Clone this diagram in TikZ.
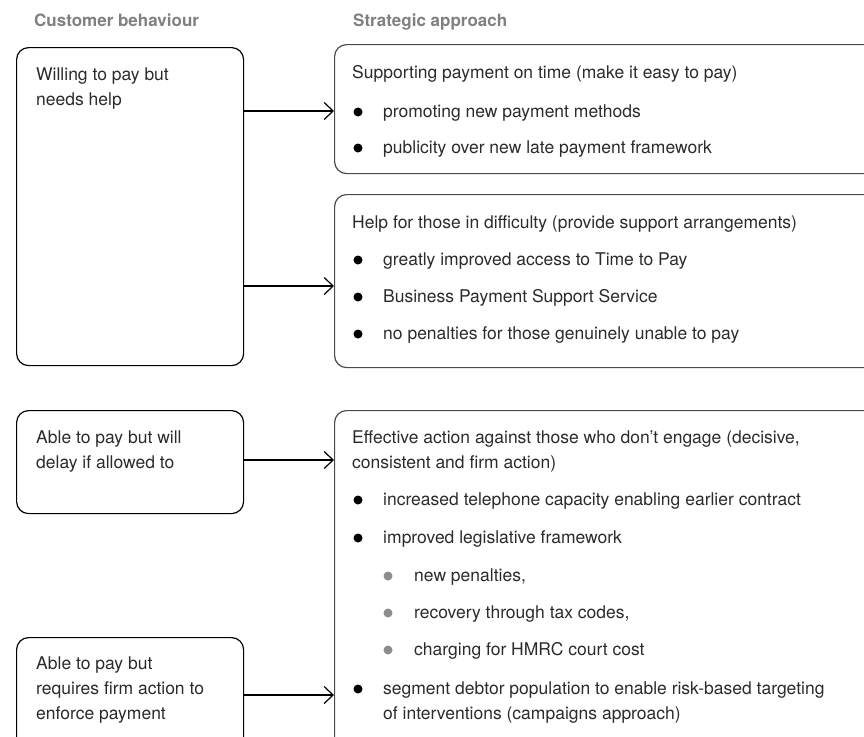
\documentclass[tikz,border=0pt]{standalone}
\usepackage{fontspec}
\setmainfont{TeX Gyre Heros}
\usetikzlibrary{arrows.meta}
\definecolor{hdrcol}{HTML}{808080}
\definecolor{txtcol}{HTML}{2B2B2B}
\definecolor{subcol}{HTML}{8C8C8C}
\definecolor{rboxcol}{HTML}{4A4A4A}
\begin{document}
\begin{tikzpicture}[x=1pt,y=-1pt,
  lbox/.style={draw=black, line width=1.2pt, rounded corners=12pt, anchor=north west, inner sep=0pt},
  rbox/.style={draw=rboxcol, line width=1.2pt, rounded corners=12pt, anchor=north west, inner sep=0pt},
  hdr/.style={anchor=base west, inner sep=0pt, text=hdrcol, font=\fontsize{17}{20}\selectfont\bfseries},
  txt/.style={anchor=base west, inner sep=0pt, text=txtcol, font=\fontsize{17.5}{25}\selectfont},
  dot/.style={circle, fill=black, inner sep=0pt, minimum size=9pt},
  subdot/.style={circle, fill=subcol, inner sep=0pt, minimum size=9pt},
  arr/.style={line width=1.2pt, -{Straight Barb[length=9pt,width=17pt]}}]
\useasboundingbox (0,0) rectangle (864,736);
\clip (0,0) rectangle (864,736);

% headers
\node[hdr] (h1) at (34,27) {Customer behaviour};
\node[hdr] (h2) at (353,27) {Strategic approach};

% boxes
\node[lbox, minimum width=227pt, minimum height=318pt] (l1) at (16,47) {};
\node[rbox, minimum width=546pt, minimum height=129pt] (r1) at (334,44) {};
\node[rbox, minimum width=546pt, minimum height=173pt] (r2) at (334,194) {};
\node[lbox, minimum width=227pt, minimum height=103pt] (l3) at (16,410) {};
\node[rbox, minimum width=546pt, minimum height=350pt] (r3) at (334,410) {};
\node[lbox, minimum width=227pt, minimum height=123pt] (l4) at (16,637) {};

% left texts
\node[txt] (t11) at (36,80) {Willing to pay but};
\node[txt] (t12) at (36,105) {needs help};
\node[txt] (t31) at (36,443) {Able to pay but will};
\node[txt] (t32) at (36,468) {delay if allowed to};
\node[txt] (t41) at (36,669) {Able to pay but};
\node[txt] (t42) at (36,694) {requires firm action to};
\node[txt] (t43) at (36,719) {enforce payment};

% right box 1
\node[txt] (s10) at (352,78) {Supporting payment on time (make it easy to pay)};
\node[dot] (d11) at (358,112) {};
\node[txt] (s11) at (383,117) {promoting new payment methods};
\node[dot] (d12) at (358,148) {};
\node[txt] (s12) at (383,153) {publicity over new late payment framework};

% right box 2
\node[txt] (s20) at (352,228) {Help for those in difficulty (provide support arrangements)};
\node[dot] (d21) at (358,260) {};
\node[txt] (s21) at (383,265) {greatly improved access to Time to Pay};
\node[dot] (d22) at (358,297) {};
\node[txt] (s22) at (383,302) {Business Payment Support Service};
\node[dot] (d23) at (358,334) {};
\node[txt] (s23) at (383,339) {no penalties for those genuinely unable to pay};

% right box 3
\node[txt] (s30) at (352,443) {Effective action against those who don’t engage (decisive,};
\node[txt] (s30b) at (352,468) {consistent and firm action)};
\node[dot] (d31) at (358,500) {};
\node[txt] (s31) at (383,505) {increased telephone capacity enabling earlier contract};
\node[dot] (d32) at (358,538) {};
\node[txt] (s32) at (383,543) {improved legislative framework};
\node[subdot] (e1) at (388,576) {};
\node[txt] (u1) at (414,581) {new penalties,};
\node[subdot] (e2) at (388,613) {};
\node[txt] (u2) at (414,618) {recovery through tax codes,};
\node[subdot] (e3) at (388,650) {};
\node[txt] (u3) at (414,655) {charging for HMRC court cost};
\node[dot] (d33) at (358,689) {};
\node[txt] (s33) at (383,694) {segment debtor population to enable risk-based targeting};
\node[txt] (s33b) at (383,719) {of interventions (campaigns approach)};

% connectors
\coordinate (y1) at (0,111);
\coordinate (y2) at (0,286);
\coordinate (y3) at (0,460);
\coordinate (y4) at (0,695);
\draw[arr] (l1.east |- y1) -- (r1.west |- y1);
\draw[arr] (l1.east |- y2) -- (r2.west |- y2);
\draw[arr] (l3.east |- y3) -- (r3.west |- y3);
\draw[arr] (l4.east |- y4) -- (r3.west |- y4);
\end{tikzpicture}
\end{document}
